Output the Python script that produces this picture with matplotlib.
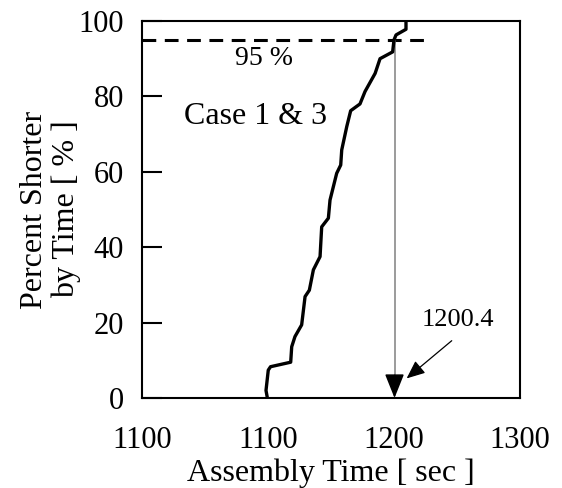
import matplotlib
matplotlib.use("Agg")
import matplotlib.pyplot as plt

plt.rcParams['font.family'] = ['Liberation Serif', 'DejaVu Serif']

# curve (assembly time [sec], percent shorter)
time_sec = [1099.5, 1098.4, 1100.2, 1102.0, 1118.0, 1118.8, 1121.4, 1126.7,
            1129.4, 1132.8, 1136.0, 1141.3, 1142.6, 1147.9, 1149.2, 1154.5,
            1157.7, 1158.5, 1162.5, 1165.6, 1173.0, 1177.0, 1185.0, 1188.9,
            1198.9, 1200.0, 1201.6, 1209.5, 1209.5]
percent = [0.0, 2.0, 7.4, 8.3, 9.5, 13.6, 16.3, 19.4,
           26.9, 28.6, 34.0, 37.5, 45.4, 47.7, 52.5, 59.6,
           61.8, 65.8, 72.0, 76.2, 78.0, 81.3, 86.1, 90.0,
           91.8, 95.0, 96.3, 97.8, 100.0]

x_ticks = [1000, 1100, 1200, 1300]
x_tick_labels = ['1100', '1100', '1200', '1300']
y_ticks = [0, 20, 40, 60, 80, 100]

level = 95
t95 = 1200.4
dash_end = 1226

fig = plt.figure(figsize=(5.62, 4.88), dpi=100)
ax = fig.add_axes([0.2527, 0.1844, 0.6726, 0.7726])

ax.plot(time_sec, percent, color='black', lw=2.4, solid_joinstyle='round',
        zorder=3)
ax.plot([x_ticks[0], dash_end], [level, level], color='black', lw=2.2,
        linestyle=(0, (4.5, 2.8)), zorder=2)
ax.plot([t95, t95], [level, 4], color='gray', lw=1.1, zorder=2)
ax.annotate('', xy=(t95, 0), xytext=(t95, 6),
            arrowprops=dict(arrowstyle='-|>,head_length=0.75,head_width=0.3',
                            color='black', lw=1.1, mutation_scale=20,
                            shrinkA=0, shrinkB=0), zorder=4)
ax.annotate('', xy=(1210, 5.2), xytext=(1245.8, 15.2),
            arrowprops=dict(arrowstyle='-|>,head_length=0.7,head_width=0.3',
                            color='black', lw=0.9, mutation_scale=16,
                            shrinkA=0, shrinkB=0))

ax.text(1097.2, 90, '95 %', fontsize=20, ha='center', va='center')
ax.text(1090.5, 74.7, 'Case 1 & 3', fontsize=23, ha='center', va='center')
ax.text(1250.8, 20.7, '1200.4', fontsize=19, ha='center', va='center')

ax.set_xlim(1000, 1300)
ax.set_ylim(0, 100)
ax.set_xticks(x_ticks)
ax.set_xticklabels(x_tick_labels)
ax.set_yticks(y_ticks)
ax.tick_params(axis='y', direction='in', length=14.4, width=1.5,
               labelsize=22, pad=13)
ax.tick_params(axis='x', length=0, labelsize=22, pad=20)
for s in ax.spines.values():
    s.set_linewidth(1.5)

ax.set_xlabel('Assembly Time [ sec ]', fontsize=23, labelpad=2.5)
ax.set_ylabel('Percent Shorter\nby Time [ % ]', fontsize=23, labelpad=-2,
              linespacing=1.12)

fig.savefig('out.png', dpi=100)
